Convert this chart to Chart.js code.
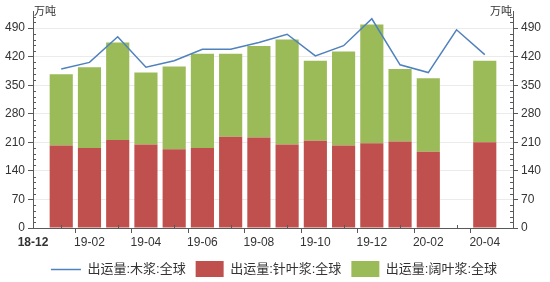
<!DOCTYPE html>
<html>
<head>
<meta charset="utf-8">
<script src="https://cdn.jsdelivr.net/npm/chart.js@4/dist/chart.umd.min.js"></script>
<style>
  html, body { margin: 0; padding: 0; background: #fff; }
</style>
</head>
<body>
<canvas id="canvas" width="550" height="282"></canvas>
<script>
// mois (18-12 et 20-05 sont les bords de l'axe, sans données)
const months = ["18-12", "19-01", "19-02", "19-03", "19-04", "19-05", "19-06", "19-07", "19-08",
  "19-09", "19-10", "19-11", "19-12", "20-01", "20-02", "20-03", "20-04", "20-05"];

// 出运量:针叶浆:全球 (万吨)
const softwood = [null, 202, 196, 216, 205, 193, 196, 224, 222, 205, 214, 202, 208, 212, 187, null, 210, null];
// 出运量:阔叶浆:全球 (万吨)
const hardwood = [null, 175, 198, 239, 176, 203, 231, 203, 224, 257, 196, 231, 291, 178, 180, null, 200, null];
// 出运量:木浆:全球 (万吨)
const pulpTotal = [null, 390, 406, 469, 394, 410, 438, 438, 455, 475, 422, 447, 513, 400, 381, 486, 425, null];

const yTicks = [0, 70, 140, 210, 280, 350, 420, 490];
const yMax = 532;
const yMinorStep = 14;

const seriesNames = ["出运量:木浆:全球", "出运量:针叶浆:全球", "出运量:阔叶浆:全球"];
const unitLabel = "万吨";

const FONT = '"Liberation Sans", "Noto Sans CJK SC", sans-serif';
const AXIS_COLOR = "#595959";
const TEXT_COLOR = "#333333";

Chart.defaults.font.family = FONT;
Chart.defaults.color = TEXT_COLOR;

// petites graduations intérieures + unités + trait de légende
const extras = {
  id: "extras",
  afterDatasetsDraw(chart) {
    const ctx = chart.ctx;
    const area = chart.chartArea;
    const x = chart.scales.x;
    const y = chart.scales.y;
    ctx.save();
    ctx.strokeStyle = AXIS_COLOR;
    ctx.lineWidth = 1;
    ctx.beginPath();
    for (let v = yMinorStep; v < yMax; v += yMinorStep) {
      if (v % 70 === 0) continue;
      const py = Math.round(y.getPixelForValue(v)) + 0.5;
      ctx.moveTo(area.left, py);
      ctx.lineTo(area.left + 3, py);
      ctx.moveTo(area.right, py);
      ctx.lineTo(area.right - 3, py);
    }
    for (let i = 1; i < months.length; i += 2) {
      const px = Math.round(x.getPixelForValue(i)) + 0.5;
      ctx.moveTo(px, area.bottom);
      ctx.lineTo(px, area.bottom - 3);
    }
    ctx.stroke();
    ctx.restore();
  },
  afterDraw(chart) {
    const ctx = chart.ctx;
    const area = chart.chartArea;
    ctx.save();
    ctx.fillStyle = TEXT_COLOR;
    ctx.font = "11px " + FONT;
    ctx.textBaseline = "middle";
    ctx.textAlign = "left";
    ctx.fillText(unitLabel, area.left + 1, 12);
    ctx.textAlign = "right";
    ctx.fillText(unitLabel, area.right - 1, 12);

    // trait pour la série en ligne dans la légende
    const hb = chart.legend.legendHitBoxes[0];
    if (hb) {
      const ly = Math.round(hb.top + hb.height / 2) + 0.5;
      ctx.strokeStyle = "#4F81BD";
      ctx.lineWidth = 1.5;
      ctx.beginPath();
      ctx.moveTo(hb.left - 2, ly);
      ctx.lineTo(hb.left + 28, ly);
      ctx.stroke();
    }
    ctx.restore();
  }
};

const yAxis = (position, onArea, width) => ({
  type: "linear",
  position: position,
  min: 0,
  max: yMax,
  afterBuildTicks: (scale) => {
    scale.ticks = yTicks.map((v) => ({ value: v }));
  },
  afterFit: (scale) => {
    scale.width = width;
  },
  ticks: {
    font: { size: 12 },
    color: TEXT_COLOR,
    padding: 3
  },
  grid: {
    drawOnChartArea: onArea,
    color: "#ebebeb",
    tickColor: AXIS_COLOR,
    tickLength: 5
  },
  border: { color: AXIS_COLOR }
});

const ctx = document.getElementById("canvas").getContext("2d");

new Chart(ctx, {
  type: "bar",
  data: {
    labels: months,
    datasets: [
      {
        type: "line",
        label: seriesNames[0],
        data: pulpTotal,
        borderColor: "#4F81BD",
        backgroundColor: "#4F81BD",
        borderWidth: 1.5,
        pointRadius: 0,
        tension: 0,
        order: 0,
        yAxisID: "y"
      },
      {
        label: seriesNames[1],
        data: softwood,
        backgroundColor: "#C0504D",
        stack: "pulp",
        order: 1,
        yAxisID: "y"
      },
      {
        label: seriesNames[2],
        data: hardwood,
        backgroundColor: "#9BBB59",
        stack: "pulp",
        order: 1,
        yAxisID: "y"
      }
    ]
  },
  options: {
    responsive: false,
    animation: false,
    devicePixelRatio: 1,
    layout: { padding: { top: 11, left: 0, right: 0, bottom: -5 } },
    datasets: {
      bar: { categoryPercentage: 1, barPercentage: 0.82 }
    },
    plugins: {
      tooltip: { enabled: false },
      legend: {
        position: "bottom",
        labels: {
          boxWidth: 28,
          boxHeight: 16,
          padding: 10,
          color: TEXT_COLOR,
          font: { size: 13 },
          generateLabels: (chart) => {
            const items = Chart.defaults.plugins.legend.labels.generateLabels(chart);
            items.forEach((item) => {
              if (item.datasetIndex === 0) {
                item.fillStyle = "rgba(0,0,0,0)";
                item.strokeStyle = "rgba(0,0,0,0)";
              }
              item.lineWidth = 0;
            });
            return items;
          }
        }
      }
    },
    scales: {
      x: {
        type: "category",
        offset: false,
        stacked: true,
        afterFit: (scale) => {
          scale.height = 23;
        },
        ticks: {
          autoSkip: false,
          maxRotation: 0,
          font: (c) => ({ size: 12, weight: c.index === 0 ? "bold" : "normal" }),
          color: TEXT_COLOR,
          padding: 2,
          callback: function (value, index) {
            return index % 2 === 0 ? months[index] : "";
          }
        },
        grid: {
          drawOnChartArea: false,
          tickLength: 5,
          tickColor: (c) => (c.index % 2 === 0 ? AXIS_COLOR : "rgba(0,0,0,0)")
        },
        border: { color: AXIS_COLOR }
      },
      y: Object.assign(yAxis("left", true, 33), { stacked: true }),
      y2: yAxis("right", false, 37)
    }
  },
  plugins: [extras]
});
</script>
</body>
</html>
